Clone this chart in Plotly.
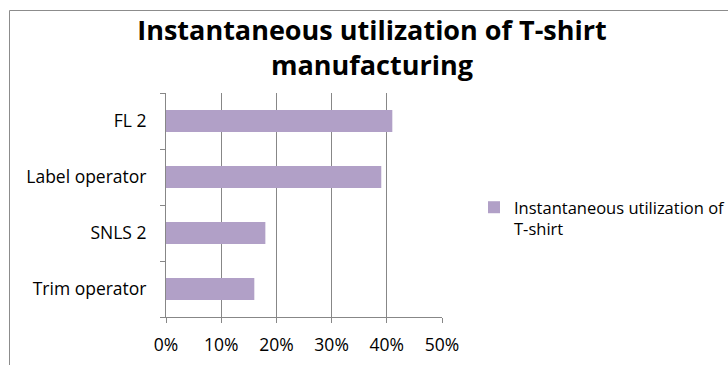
import plotly.graph_objects as go

categories = ["Trim operator", "SNLS 2", "Label operator", "FL 2"]
values = [0.16, 0.18, 0.39, 0.41]
series_name = "Instantaneous utilization of<br>T-shirt"
title_text = "Instantaneous utilization of T-shirt<br>manufacturing"
x_ticks = [0, 0.1, 0.2, 0.3, 0.4, 0.5]
x_ticklabels = ["0%", "10%", "20%", "30%", "40%", "50%"]

W, H = 728, 365
L, R, T, B = 166, 442, 93, 317
FONT = "'Open Sans', Lato, sans-serif"
GRID = "#878787"
BAR = "#B1A0C7"

def px_x(p):
    return (p - L) / (R - L)

def px_y(p):
    return (B - p) / (B - T)

fig = go.Figure()
fig.add_trace(go.Bar(
    y=categories, x=values, orientation="h", name=series_name,
    marker=dict(color=BAR, line=dict(width=0)), showlegend=True,
))

fig.update_layout(
    width=W, height=H,
    margin=dict(l=L, r=W - R, t=T, b=H - B, pad=0, autoexpand=False),
    paper_bgcolor="white", plot_bgcolor="white",
    font=dict(family=FONT, size=17, color="#000000"),
    bargap=0.61,
    title=dict(text=title_text, x=372 / W, xanchor="center", xref="container",
               y=1 - 40 / H, yanchor="top", yref="container",
               font=dict(family=FONT, size=27, color="#000000", weight="bold")),
    xaxis=dict(range=[0, 0.5], tickvals=x_ticks, ticktext=x_ticklabels,
               showgrid=True, gridcolor=GRID, gridwidth=1,
               showline=True, linecolor=GRID, linewidth=1,
               ticks="outside", ticklen=5, tickcolor=GRID,
               ticklabelstandoff=7,
               zeroline=False, tickfont=dict(size=17.5, family=FONT)),
    yaxis=dict(categoryorder="array", categoryarray=categories,
               showgrid=False, showline=True, linecolor=GRID, linewidth=1,
               ticks="outside", ticklen=5, tickcolor=GRID, tickson="boundaries",
               ticklabelstandoff=15,
               zeroline=False, tickfont=dict(size=17.5, family=FONT)),
    legend=dict(x=px_x(474), xanchor="left", y=px_y(190), yanchor="top",
                valign="top",
                bgcolor="rgba(0,0,0,0)", borderwidth=0,
                font=dict(family=FONT, size=16.5, color="#000000"),
                itemwidth=30, tracegroupgap=0),
    shapes=[dict(type="rect", xref="paper", yref="paper",
                 x0=px_x(9.5), x1=px_x(760), y0=px_y(400), y1=px_y(10.5),
                 line=dict(color="#8C8C8C", width=1), fillcolor="rgba(0,0,0,0)",
                 layer="below")],
)

fig.write_html("out.html")
